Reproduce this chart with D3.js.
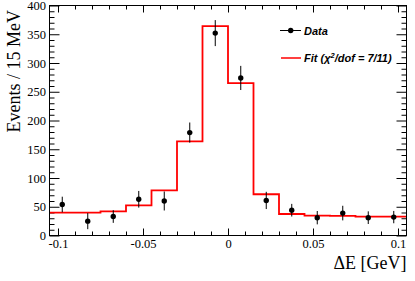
<!DOCTYPE html>
<html>
<head>
<meta charset="utf-8">
<script src="https://cdn.jsdelivr.net/npm/d3@7"></script>
<style>
  body { margin: 0; background: #fff; }
  svg { display: block; }
</style>
</head>
<body>
<svg id="chart" width="415" height="281"></svg>
<script>
// ---- data ----
const binCenters = [-0.0975, -0.0825, -0.0675, -0.0525, -0.0375, -0.0225, -0.0075,
                    0.0075, 0.0225, 0.0375, 0.0525, 0.0675, 0.0825, 0.0975];
const dataValues = [54, 25, 33, 63, 60, 179, 352, 274, 61, 44, 31, 39, 31, 32];
const dataErrors = [13.5, 14, 11, 14.5, 16.5, 17.5, 22.6, 21, 15, 11, 11.6, 12.7, 11, 10.7];
const fitValues  = [39.7, 39.7, 42, 52.5, 78.6, 163.8, 364, 265, 71.7, 37.4, 34.4, 34.2, 32.7, 32.7];
const binWidth = 0.015;
const xMajorTicks = [-0.1, -0.05, 0, 0.05, 0.1];
const xTickLabels = ["-0.1", "-0.05", "0", "0.05", "0.1"];
const yMajorTicks = [0, 50, 100, 150, 200, 250, 300, 350, 400];
const yTickLabels = ["0", "50", "100", "150", "200", "250", "300", "350", "400"];
const xTitle = "\u0394E [GeV]";
const yTitle = "Events / 15 MeV";
const legendData = "Data";

// ---- layout ----
const L = 49.5, R = 406.5, T = 5.5, B = 235.5;
const svg = d3.select("#chart");
const x = d3.scaleLinear().domain([-0.105, 0.105]).range([L, R]);
const y = d3.scaleLinear().domain([0, 400]).range([B, T]);

const xMinor = d3.range(-10, 11).map(i => i / 100).filter(v => !xMajorTicks.some(m => Math.abs(m - v) < 1e-9));
const yMinor = d3.range(0, 401, 10).filter(v => v % 50 !== 0);

const serif = "'Liberation Serif', 'Times New Roman', serif";
const sans = "'Liberation Sans', Arial, Helvetica, sans-serif";

function styleAxis(g) {
  g.select(".domain").remove();
  g.selectAll(".tick line").attr("stroke", "#000").attr("stroke-width", 1);
  g.selectAll("text").attr("font-family", serif).attr("font-size", "12.5px").attr("fill", "#000");
}

// bottom
svg.append("g").attr("transform", `translate(0,${B})`)
  .call(d3.axisBottom(x).tickValues(xMajorTicks).tickSizeInner(-7).tickSizeOuter(0).tickPadding(4)
    .tickFormat((d, i) => xTickLabels[i]))
  .call(styleAxis);
svg.append("g").attr("transform", `translate(0,${B})`)
  .call(d3.axisBottom(x).tickValues(xMinor).tickSizeInner(-4).tickSizeOuter(0).tickFormat(""))
  .call(styleAxis);
// top
svg.append("g").attr("transform", `translate(0,${T})`)
  .call(d3.axisTop(x).tickValues(xMajorTicks).tickSizeInner(-7).tickSizeOuter(0).tickFormat(""))
  .call(styleAxis);
svg.append("g").attr("transform", `translate(0,${T})`)
  .call(d3.axisTop(x).tickValues(xMinor).tickSizeInner(-4).tickSizeOuter(0).tickFormat(""))
  .call(styleAxis);
// left
svg.append("g").attr("transform", `translate(${L},0)`)
  .call(d3.axisLeft(y).tickValues(yMajorTicks).tickSizeInner(-10).tickSizeOuter(0).tickPadding(3.5)
    .tickFormat((d, i) => yTickLabels[i]))
  .call(styleAxis);
svg.append("g").attr("transform", `translate(${L},0)`)
  .call(d3.axisLeft(y).tickValues(yMinor).tickSizeInner(-5).tickSizeOuter(0).tickFormat(""))
  .call(styleAxis);
// right
svg.append("g").attr("transform", `translate(${R},0)`)
  .call(d3.axisRight(y).tickValues(yMajorTicks).tickSizeInner(-10).tickSizeOuter(0).tickFormat(""))
  .call(styleAxis);
svg.append("g").attr("transform", `translate(${R},0)`)
  .call(d3.axisRight(y).tickValues(yMinor).tickSizeInner(-5).tickSizeOuter(0).tickFormat(""))
  .call(styleAxis);

// fit step histogram
const stepPts = [];
binCenters.forEach((c, i) => {
  stepPts.push([c - binWidth / 2, fitValues[i]]);
  stepPts.push([c + binWidth / 2, fitValues[i]]);
});
svg.append("path")
  .attr("d", d3.line().x(d => x(d[0])).y(d => y(d[1]))(stepPts))
  .attr("fill", "none").attr("stroke", "#ff0000").attr("stroke-width", 1.8);

// data points
const pts = svg.append("g");
binCenters.forEach((c, i) => {
  pts.append("line")
    .attr("x1", x(c)).attr("x2", x(c))
    .attr("y1", y(dataValues[i] - dataErrors[i])).attr("y2", y(dataValues[i] + dataErrors[i]))
    .attr("stroke", "#000").attr("stroke-width", 1);
  pts.append("circle").attr("cx", x(c)).attr("cy", y(dataValues[i])).attr("r", 2.7).attr("fill", "#000");
});

// frame
svg.append("rect").attr("x", L).attr("y", T).attr("width", R - L).attr("height", B - T)
  .attr("fill", "none").attr("stroke", "#000").attr("stroke-width", 1);

// legend
const lg = svg.append("g");
lg.append("line").attr("x1", 280).attr("x2", 301).attr("y1", 30.5).attr("y2", 30.5)
  .attr("stroke", "#000").attr("stroke-width", 1);
lg.append("circle").attr("cx", 290.7).attr("cy", 30.5).attr("r", 2.7).attr("fill", "#000");
lg.append("text").attr("x", 304).attr("y", 34.5)
  .attr("font-family", sans).attr("font-weight", "bold").attr("font-style", "italic")
  .attr("font-size", "11px").text(legendData);
lg.append("line").attr("x1", 281).attr("x2", 301).attr("y1", 58).attr("y2", 58)
  .attr("stroke", "#ff0000").attr("stroke-width", 1.5);
const ft = lg.append("text").attr("x", 304).attr("y", 62)
  .attr("font-family", sans).attr("font-weight", "bold").attr("font-style", "italic")
  .attr("font-size", "11px");
ft.append("tspan").text("Fit (\u03c7");
ft.append("tspan").attr("dy", -4).attr("font-size", "7.5px").text("2");
ft.append("tspan").attr("dy", 4).text("/dof = 7/11)");

// axis titles
svg.append("text").attr("x", R).attr("y", 269).attr("text-anchor", "end")
  .attr("font-family", serif).attr("font-size", "18px").text(xTitle);
svg.append("text").attr("transform", "translate(19.5,10) rotate(-90)").attr("text-anchor", "end")
  .attr("font-family", serif).attr("font-size", "18px").text(yTitle);
</script>
</body>
</html>
